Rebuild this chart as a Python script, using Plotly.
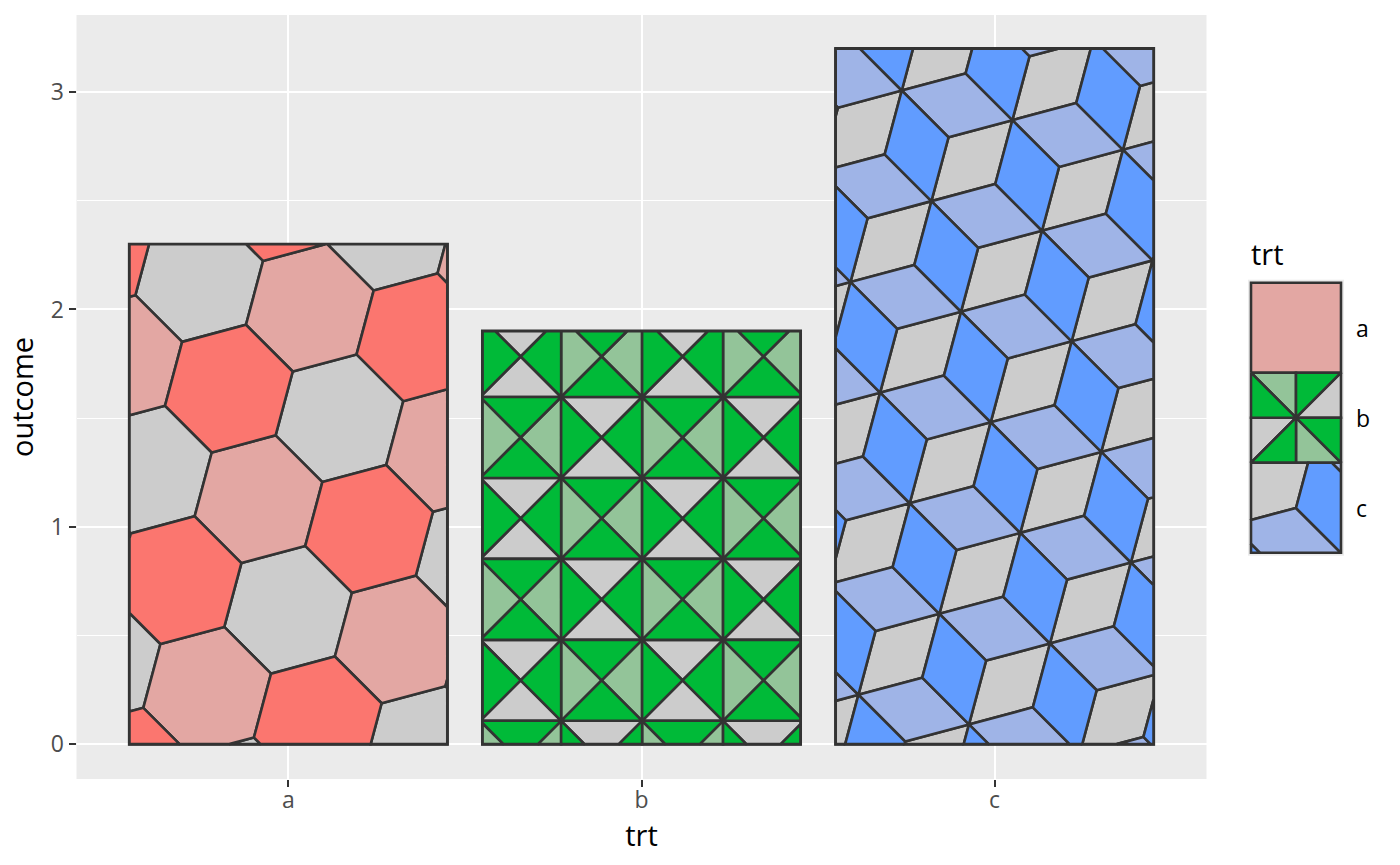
import math
import plotly.graph_objects as go

# values
trt = ["a", "b", "c"]
outcome = [2.3, 1.9, 3.2]
y_ticks = [0, 1, 2, 3]
y_minor = [0.5, 1.5, 2.5]

# three fills used by each bar's tiling
fills_a = ["#FB766F", "#E3A7A3", "#CCCCCC"]   # hexagon
fills_b = ["#00BA38", "#93C499", "#CCCCCC"]   # triangle
fills_c = ["#619CFF", "#9FB4E7", "#CCCCCC"]   # rhombille

W, H = 1400, 865
panel_l, panel_r, panel_t, panel_b = 76.5, 1206.5, 15, 779
x_range = [0.4, 3.6]
y_range = [-0.1605, 3.355]
bar_w = 0.9
line_c = "#333333"
line_w = 2.6

px_x = (panel_r - panel_l) / (x_range[1] - x_range[0])
px_y = (panel_b - panel_t) / (y_range[1] - y_range[0])

# tile side in screen pixels, the same in all three patterns
side = 66.1
pitch = side * math.sqrt(3)
cell = pitch / math.sqrt(2)


def polar(r, deg):
    return (r * math.cos(math.radians(deg)), r * math.sin(math.radians(deg)))


# Sutherland-Hodgman against a box, pattern tiles are cut at the bar edges
def clip_box(poly, w, h):
    edges = [(0, 1, 0), (0, -1, w), (1, 1, 0), (1, -1, h)]
    for axis, sign, lim in edges:
        out = []
        for i in range(len(poly)):
            p, q = poly[i], poly[(i + 1) % len(poly)]
            dp = sign * (p[axis] - lim)
            dq = sign * (q[axis] - lim)
            if dp >= 0:
                out.append(p)
            if dp * dq < 0:
                t = dp / (dp - dq)
                out.append((p[0] + t * (q[0] - p[0]), p[1] + t * (q[1] - p[1])))
        poly = out
        if not poly:
            return []
    return poly


def hex_tiles(ox, oy, n=8):
    u = polar(pitch, 45)
    v = polar(pitch, 105)
    tiles = []
    for i in range(-n, n + 1):
        for j in range(-n, n + 1):
            cx = ox + i * u[0] + j * v[0]
            cy = oy + i * u[1] + j * v[1]
            poly = []
            for k in range(6):
                d = polar(side, 15 + 60 * k)
                poly.append((cx + d[0], cy + d[1]))
            tiles.append(((i + 2 * j) % 3, poly))
    return tiles


def tri_tiles(ox, oy, size, n=8):
    tiles = []
    for c in range(-n, n + 1):
        for r in range(-n, n + 1):
            x0 = ox + c * size
            y0 = oy + r * size
            x1, y1 = x0 + size, y0 + size
            m = (x0 + size / 2, y0 + size / 2)
            # even cells: left/right dark, top/bottom grey; odd: left/right light, top/bottom dark
            if (c + r) % 2 == 0:
                side_fill, cap_fill = 0, 2
            else:
                side_fill, cap_fill = 1, 0
            tiles.append((side_fill, [(x0, y0), m, (x0, y1)]))
            tiles.append((side_fill, [(x1, y0), m, (x1, y1)]))
            tiles.append((cap_fill, [(x0, y0), m, (x1, y0)]))
            tiles.append((cap_fill, [(x0, y1), m, (x1, y1)]))
    return tiles


def rhomb_tiles(ox, oy, n=8):
    a = polar(pitch, -15)
    b = polar(pitch, -75)
    e1 = polar(side, 15)
    e2 = polar(side, 75)
    e3 = polar(side, 135)
    e4 = polar(side, 195)
    tiles = []
    for i in range(-n, n + 1):
        for j in range(-n, n + 1):
            px = ox + i * a[0] + j * b[0]
            py = oy + i * a[1] + j * b[1]
            for fill, d1, d2 in [(2, e1, e2), (0, e2, e3), (1, e3, e4)]:
                tiles.append((fill, [(px, py),
                                     (px + d1[0], py + d1[1]),
                                     (px + d1[0] + d2[0], py + d1[1] + d2[1]),
                                     (px + d2[0], py + d2[1])]))
    return tiles


def add_tiles(fig, tiles, w, h, fills, to_x, to_y, xaxis="x", yaxis="y"):
    for f in (2, 1, 0):
        xs, ys = [], []
        for fill, poly in tiles:
            if fill != f:
                continue
            cut = clip_box(poly, w, h)
            if len(cut) < 3:
                continue
            cut = cut + [cut[0]]
            xs += [to_x(p[0]) for p in cut] + [None]
            ys += [to_y(p[1]) for p in cut] + [None]
        fig.add_trace(go.Scatter(x=xs, y=ys, mode="lines", fill="toself",
                                 fillcolor=fills[f],
                                 line=dict(color=line_c, width=line_w),
                                 hoverinfo="skip", showlegend=False,
                                 xaxis=xaxis, yaxis=yaxis))


x_pos = [i + 1 for i in range(len(trt))]

fig = go.Figure()
fig.add_trace(go.Bar(x=x_pos, y=outcome, width=bar_w, showlegend=False,
                     marker=dict(color="#CCCCCC", line=dict(color=line_c, width=3.2))))

# pattern phases: pixel offset of the first lattice point from each bar's lower left corner
patterns = [hex_tiles(99.4, 355.5), tri_tiles(-2.4, 23.3, cell), rhomb_tiles(95.7, 543)]
all_fills = [fills_a, fills_b, fills_c]

for k in range(len(trt)):
    left = x_pos[k] - bar_w / 2
    bw = bar_w * px_x
    bh = outcome[k] * px_y
    add_tiles(fig, patterns[k], bw, bh, all_fills[k],
              lambda p, left=left: left + p / px_x, lambda p: p / px_y)

# legend keys live on a second pair of axes, measured in pixels, first key on top
key_size = 90
key_l, key_t = 1251, 282.7
pad = 3  # room round the keys so the outer lines are not clipped
e1 = polar(side, 15)
key_patterns = [[(1, [(0, 0), (key_size, 0), (key_size, key_size), (0, key_size)])],
                tri_tiles(key_size / 2, key_size / 2, key_size),
                rhomb_tiles(key_size / 2 - e1[0], 44.7 - e1[1])]
for k in range(len(trt)):
    base = (len(trt) - 1 - k) * key_size
    add_tiles(fig, key_patterns[k], key_size, key_size, all_fills[k],
              lambda p: p, lambda p, base=base: p + base, "x2", "y2")

fig.update_layout(
    width=W, height=H, autosize=False,
    margin=dict(l=0, r=0, t=0, b=0),
    paper_bgcolor="white", plot_bgcolor="#EBEBEB",
    font=dict(family="Open Sans", color="black"),
    showlegend=False,
    xaxis=dict(domain=[panel_l / W, panel_r / W], range=x_range,
               tickvals=x_pos, ticktext=trt, showgrid=True, gridcolor="white", gridwidth=2.4,
               zeroline=False, ticks="outside", ticklen=7, tickwidth=2.4, tickcolor=line_c,
               ticklabelstandoff=-7,
               tickfont=dict(size=23, color="#4D4D4D"),
               title=dict(text="trt", font=dict(size=29), standoff=0)),
    yaxis=dict(domain=[1 - panel_b / H, 1 - panel_t / H], range=y_range,
               tickvals=y_ticks, showgrid=True, gridcolor="white", gridwidth=2.4,
               zeroline=False, ticks="outside", ticklen=7, tickwidth=2.4, tickcolor=line_c,
               tickfont=dict(size=23, color="#4D4D4D"),
               minor=dict(tickvals=y_minor, showgrid=True, gridcolor="white", gridwidth=1.2, ticks=""),
               title=dict(text="outcome", font=dict(size=29), standoff=8)),
    xaxis2=dict(domain=[(key_l - pad) / W, (key_l + key_size + pad) / W],
                range=[-pad, key_size + pad],
                anchor="y2", visible=False, fixedrange=True),
    yaxis2=dict(domain=[1 - (key_t + 3 * key_size + pad) / H, 1 - (key_t - pad) / H],
                range=[-pad, 3 * key_size + pad],
                anchor="x2", visible=False, fixedrange=True),
)

fig.add_annotation(text="trt", xref="paper", yref="paper", x=1249 / W, y=1 - 254 / H,
                   xanchor="left", yanchor="middle", showarrow=False,
                   font=dict(size=29, color="black"))
for k in range(len(trt)):
    fig.add_annotation(text=trt[k], xref="paper", yref="paper", x=1354 / W,
                       y=1 - (key_t + (k + 0.5) * key_size) / H,
                       xanchor="left", yanchor="middle", showarrow=False,
                       font=dict(size=23, color="black"))

fig.write_html("out.html", post_script="document.body.style.margin='0';",
               config=dict(displayModeBar=False))
